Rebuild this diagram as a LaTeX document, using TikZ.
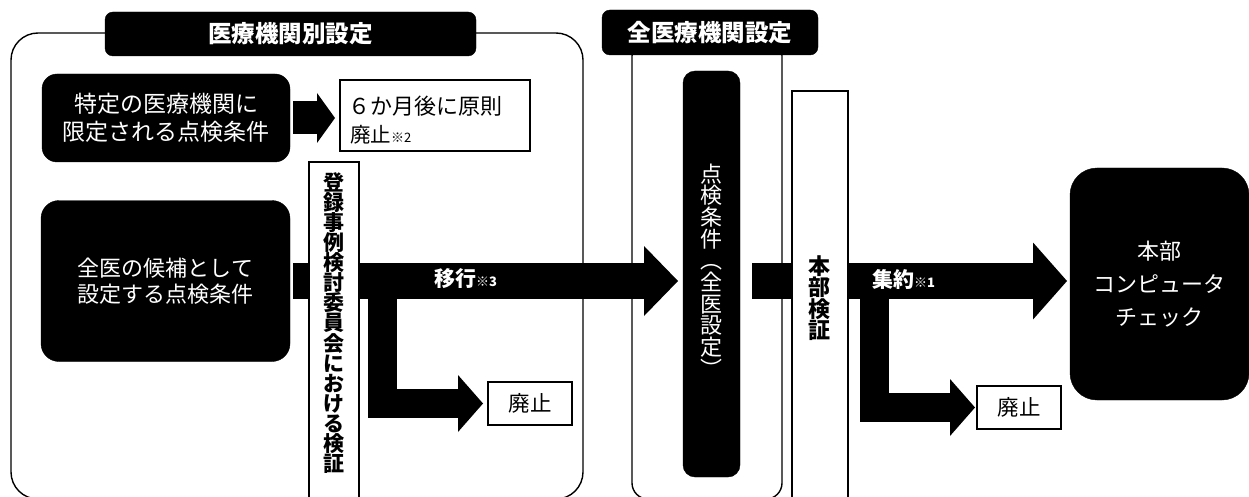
\documentclass[tikz,border=0pt]{standalone}
\usepackage{fontspec}
\setmainfont{Noto Sans CJK JP}
\usetikzlibrary{arrows.meta,calc}
\newcommand{\fsz}[2]{\fontsize{#1}{#2}\selectfont}
\begin{document}
\begin{tikzpicture}[x=1pt,y=-1pt,
  every node/.style={inner sep=0pt, outer sep=0pt},
  grpframe/.style={draw=black, line width=1.4pt, rounded corners=#1},
  titlebox/.style={fill=black, draw=black, rounded corners=8pt, text=white, font=\fsz{23.5}{28}\bfseries},
  blackbox/.style={fill=black, draw=black, rounded corners=#1, text=white, align=center},
  whitebox/.style={fill=white, draw=black, line width=1.4pt},
  blk/.style={draw=black, line join=miter},
  lbl/.style={text=white, anchor=west, font=\fsz{21}{24}\bfseries}
]
\useasboundingbox (0,0) rectangle (1249,497);

% group frames
\node[grpframe=27pt, minimum width=572pt, minimum height=466pt] (frameL) at (297,266) {};
\node[grpframe=16pt, minimum width=150pt, minimum height=459pt] (frameR) at (707,269.5) {};

% titles
\node[titlebox, minimum width=371pt, minimum height=44pt] (titleL) at (290.5,34) {医療機関別設定};
\node[titlebox, minimum width=216pt, minimum height=45pt] (titleR) at (710,32.5) {全医療機関設定};

% left column boxes
\node[blackbox=15pt, minimum width=248pt, minimum height=88pt, font=\fsz{23}{28}] (boxA) at (166,118)
  {特定の医療機関に\\限定される点検条件};
\node[blackbox=18pt, minimum width=249pt, minimum height=161pt, font=\fsz{22}{26}] (boxB) at (165.5,281)
  {全医の候補として\\設定する点検条件};

\node[whitebox, minimum width=190pt, minimum height=71pt] (six) at (435,115.5) {};
\node[anchor=west, font=\fsz{22}{24}] (sixA) at (348,106) {６か月後に原則};
\node[anchor=west, font=\fsz{20.5}{22}] (sixB) at (350,135) {廃止{\fsz{13}{13}※2}};

\node[whitebox, minimum width=84pt, minimum height=43pt, font=\fsz{21.5}{24}] (haishiA) at (530,403.5) {廃止};

% right side
\node[blackbox=12pt, minimum width=57pt, minimum height=406pt] (bar) at (711.5,274) {};
\node[text=white, align=center, font=\fsz{22}{21.7}] (barT) at (711.5,270.5)
  {点\\検\\条\\件\\︵\\全\\医\\設\\定\\︶};

\node[whitebox, minimum width=84pt, minimum height=43pt, font=\fsz{21.5}{24}] (haishiB) at (1019,407.5) {廃止};
\node[blackbox=27pt, minimum width=179pt, minimum height=232pt, font=\fsz{22}{33}] (honbu) at (1159.5,284)
  {本部\\コンピュータ\\チェック};

% block arrows
\draw[blk, line width=33pt, -{Triangle[length=18pt,width=50pt,line width=0pt]},
      shorten <=3pt, shorten >=5pt] (boxA.east) -- (boxA.east -| six.west);
\draw[blk, line width=36pt, -{Triangle[length=34pt,width=70pt,line width=0pt]},
      shorten <=3pt, shorten >=5pt] (boxB.east) -- (boxB.east -| bar.west);
\coordinate (b1) at (382.5,279);
\draw[blk, line width=29pt, -{Triangle[length=25pt,width=57pt,line width=0pt]},
      shorten >=5pt] (b1) |- (haishiA.west);

\draw[blk, line width=36pt, -{Triangle[length=34pt,width=77pt,line width=0pt]},
      shorten <=12pt, shorten >=3pt] (bar.east |- boxB.east) -- (honbu.west |- boxB.east);
\coordinate (b2) at (874.5,279);
\draw[blk, line width=29pt, -{Triangle[length=25pt,width=57pt,line width=0pt]},
      shorten >=2pt] (b2) |- (haishiB.west);

% vertical verification boxes (over the arrows)
\node[whitebox, minimum width=50pt, minimum height=337pt] (reg) at (334,330.5) {};
\node[align=center, font=\fsz{21}{20.1}\bfseries] (regT) at (334,323)
  {登\\録\\事\\例\\検\\討\\委\\員\\会\\に\\お\\け\\る\\検\\証};
\node[whitebox, minimum width=56pt, minimum height=408pt] (hk) at (820,295) {};
\node[align=center, font=\fsz{22}{20.6}\bfseries] (hkT) at (819,298) {本\\部\\検\\証};

% arrow labels
\node[lbl] (ikou) at (434,279) {移行{\fsz{13}{13}※3}};
\node[lbl] (shuyaku) at (872,279) {集約{\fsz{13}{13}※1}};
\end{tikzpicture}
\end{document}
